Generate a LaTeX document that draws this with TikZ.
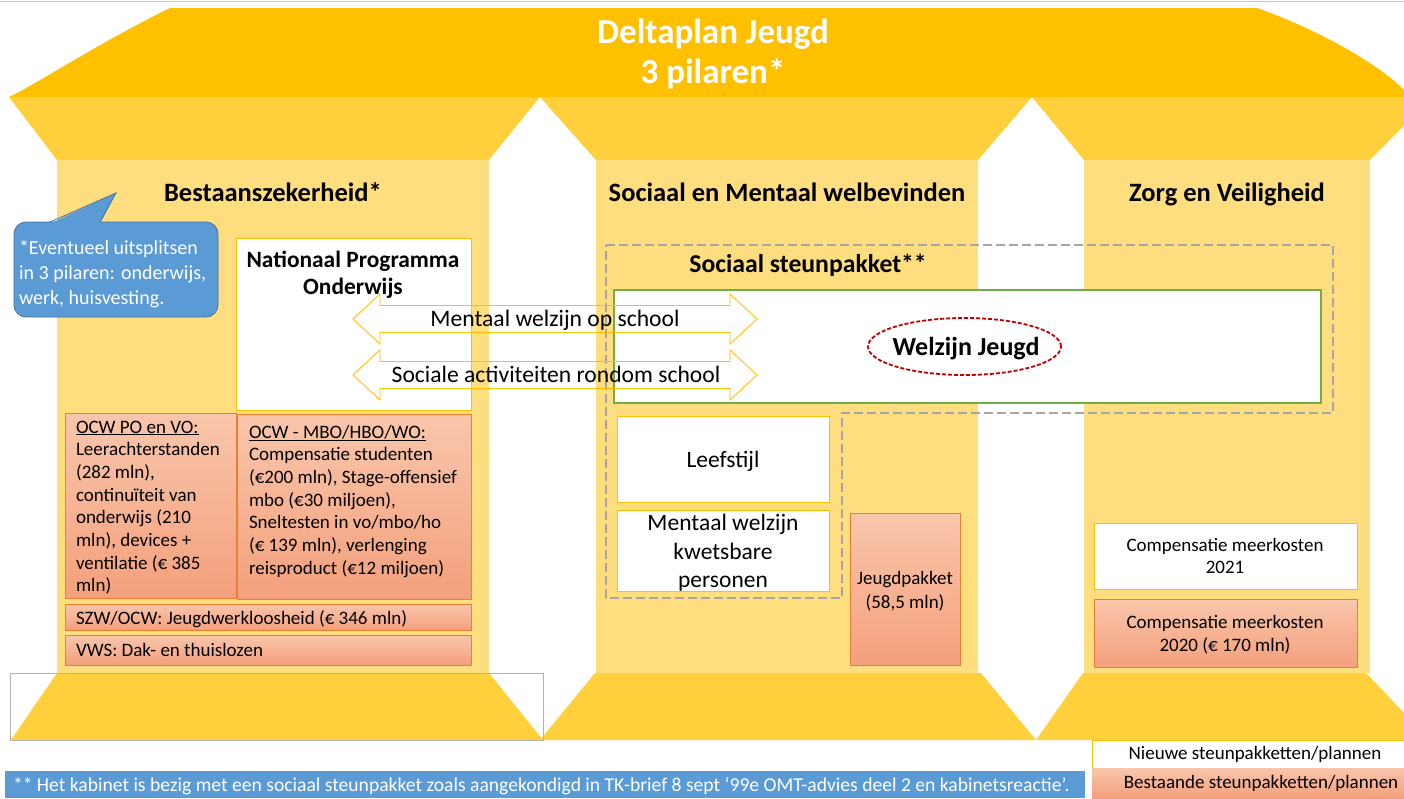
\documentclass[tikz,border=0pt]{standalone}
\usepackage{fontspec}
\setmainfont{Carlito}
\usetikzlibrary{shapes.geometric}
\definecolor{roofc}{HTML}{FFC000}
\definecolor{capc}{HTML}{FFD03C}
\definecolor{shaftc}{HTML}{FFDE80}
\definecolor{salA}{HTML}{F9C6AC}
\definecolor{salB}{HTML}{F4A07C}
\definecolor{salD}{HTML}{ED7D31}
\definecolor{bluec}{HTML}{5B9BD5}
\definecolor{blueD}{HTML}{41719C}
\definecolor{greenc}{HTML}{70AD47}
\definecolor{redc}{HTML}{C00000}
\definecolor{grayc}{HTML}{A6A6A6}
\definecolor{boxy}{HTML}{FFC000}
\newcommand{\fsz}[1]{\fontsize{#1}{#1}\selectfont}
\begin{document}
\begin{tikzpicture}[x=1pt,y=-1pt,
  every node/.style={inner sep=0pt,outer sep=0pt},
  wbox/.style={draw=boxy,fill=white,line width=0.9pt,anchor=north west},
  sbox/.style={draw=salD,line width=0.8pt,top color=salA,bottom color=salB,anchor=north west},
  hdr/.style={font=\bfseries\fsz{26.5},anchor=base},
  ltxt/.style={font=\fsz{19},anchor=base west},
  ctxt/.style={font=\fsz{19},anchor=base},
  btxt/.style={font=\fsz{23.5},anchor=base},
  dblarrow/.style={draw=roofc,line width=0.9pt},
]
\fill[white] (0,0) rectangle (1404,798);
\useasboundingbox (0,0) rectangle (1404,798);
\clip (0,0) rectangle (1404,798);
\draw[gray!45,line width=1.5pt] (0,1.5) -- (1404,1.5);
% roof
\fill[roofc] (9,97) .. controls (35,85) and (95,45) .. (170,8) -- (1257,8)
  .. controls (1320,30) and (1390,70) .. (1410,97) -- cycle;
% capitals
\fill[capc] (9,97) -- (540,97) -- (489,160) -- (57,160) -- cycle;
\fill[capc] (540,97) -- (1032,97) -- (978,160) -- (596,160) -- cycle;
\fill[capc] (1032,97) -- (1432,97) -- (1370,160) -- (1084,160) -- cycle;
% shafts
\fill[shaftc] (57,160) rectangle (489,673);
\fill[shaftc] (596,160) rectangle (978,673);
\fill[shaftc] (1084,160) rectangle (1370,673);
% bases
\fill[capc] (57,673) -- (489,673) -- (543,740) -- (11,740) -- cycle;
\fill[capc] (595,673) -- (981,673) -- (1036,740) -- (540,740) -- cycle;
\fill[capc] (1083,673) -- (1366,673) -- (1430,740) -- (1036,740) -- cycle;
\draw[gray!60,line width=0.8pt] (10,673) rectangle (543,740);
% title
\node[font=\bfseries\fsz{35},text=white,anchor=base] (t1) at (713,43) {Deltaplan Jeugd};
\node[font=\bfseries\fsz{35},text=white,anchor=base] (t2) at (713,83) {3 pilaren*};
% headers
\node[hdr] (h1) at (273,201.5) {Bestaanszekerheid*};
\node[hdr] (h2) at (787,201.5) {Sociaal en Mentaal welbevinden};
\node[hdr] (h3) at (1227,201.5) {Zorg en Veiligheid};
% speech bubble
\node[draw=blueD,fill=bluec,line width=0.8pt,rounded corners=12pt,minimum width=204,minimum height=95,anchor=north west] (bub) at (14,222) {};
\fill[bluec] (50,223.5) -- (116,193) -- (100,223.5) -- cycle;
\draw[blueD,line width=0.8pt] (50,222) -- (116,193) -- (100,222);
\node[font=\fsz{20},text=white,anchor=base west] (b1) at (19,254) {*Eventueel uitsplitsen};
\node[font=\fsz{20},text=white,anchor=base west] (b2) at (19,279) {in 3 pilaren: onderwijs,};
\node[font=\fsz{20},text=white,anchor=base west] (b3) at (19,304) {werk, huisvesting.};
% left pillar boxes
\node[wbox,minimum width=235,minimum height=172] (npo) at (236,238) {};
\node[font=\bfseries\fsz{23.4},anchor=base] (npo1) at (353,267) {Nationaal Programma};
\node[font=\bfseries\fsz{23.4},anchor=base] (npo2) at (353,294) {Onderwijs};
\node[sbox,minimum width=171,minimum height=185] (ocwpo) at (65,413) {};
\node[sbox,minimum width=234,minimum height=185] (ocwmbo) at (237,414) {};
\node[sbox,minimum width=406,minimum height=26] (szw) at (65,604) {};
\node[sbox,minimum width=406,minimum height=30] (vws) at (65,635) {};
\foreach [count=\i] \t in {{\underline{OCW PO en VO:}},Leerachterstanden,{(282 mln),},continuïteit van,{onderwijs (210},{mln), devices +},{ventilatie (€ 385},{mln)}}
  \node[ltxt] (po\i) at (76,433+22.7*\i-22.7) {\t};
\foreach [count=\i] \t in {{\underline{OCW - MBO/HBO/WO:}},Compensatie studenten,{(€200 mln), Stage-offensief},{mbo (€30 miljoen),},Sneltesten in vo/mbo/ho,{(€ 139 mln), verlenging},{reisproduct (€12 miljoen)}}
  \node[ltxt] (mbo\i) at (249,438+22.7*\i-22.7) {\t};
\node[ltxt] (szwt) at (76,624) {SZW/OCW: Jeugdwerkloosheid (€ 346 mln)};
\node[ltxt] (vwst) at (76,656) {VWS: Dak- en thuislozen};
% middle pillar
\draw[grayc,line width=2.8pt,dash pattern=on 9pt off 4pt] (606,245) -- (1333,245) -- (1333,413) -- (842,413) -- (842,598) -- (606,598) -- cycle;
\node[font=\bfseries\fsz{25.7},anchor=base] (ssp) at (808,272) {Sociaal steunpakket**};
\node[draw=greenc,fill=white,line width=2.6pt,minimum width=707,minimum height=113,anchor=north west] (green) at (614,290) {};
\node[draw=redc,line width=1.8pt,dash pattern=on 4pt off 2pt,ellipse,minimum width=193,minimum height=57] (wj) at (964.5,346.5) {};
\node[font=\bfseries\fsz{26},anchor=base] (wjt) at (966,355) {Welzijn Jeugd};
\node[wbox,minimum width=212,minimum height=86] (leef) at (617,416) {};
\node[btxt] (leeft) at (723,467.5) {Leefstijl};
\node[wbox,minimum width=212,minimum height=81] (mwk) at (617,510) {};
\node[btxt] (mwk1) at (723,530.5) {Mentaal welzijn};
\node[btxt] (mwk2) at (723,559.5) {kwetsbare};
\node[btxt] (mwk3) at (723,587.5) {personen};
\node[sbox,minimum width=110,minimum height=152] (jp) at (850,513) {};
\node[ctxt] (jp1) at (905,584) {Jeugdpakket};
\node[ctxt] (jp2) at (905,608) {(58,5 mln)};
% arrows
\draw[dblarrow] (353,319) -- (380,294) -- (380,305.5) -- (730,305.5) -- (730,294) -- (757,319) -- (730,344) -- (730,332.5) -- (380,332.5) -- (380,344) -- cycle;
\draw[dblarrow] (353,375) -- (380,350) -- (380,361.5) -- (730,361.5) -- (730,350) -- (757,375) -- (730,400) -- (730,388.5) -- (380,388.5) -- (380,400) -- cycle;
\node[font=\fsz{23.6},anchor=base] (a1) at (555,326.5) {Mentaal welzijn op school};
\node[font=\fsz{23.6},anchor=base] (a2) at (556,382.5) {Sociale activiteiten rondom school};
% right pillar
\node[wbox,minimum width=263,minimum height=66] (c21) at (1094,523) {};
\node[ctxt] (c21a) at (1225,551) {Compensatie meerkosten};
\node[ctxt] (c21b) at (1225,573) {2021};
\node[sbox,minimum width=263,minimum height=68] (c20) at (1094,599) {};
\node[ctxt] (c20a) at (1225,628) {Compensatie meerkosten};
\node[ctxt] (c20b) at (1225,651) {2020 (€ 170 mln)};
% legend
\node[wbox,minimum width=320,minimum height=28] (lgn) at (1092,740) {};
\node[sbox,minimum width=320,minimum height=30,draw=none] (lgo) at (1092,768) {};
\node[ctxt] (lgnt) at (1255,759) {Nieuwe steunpakketten/plannen};
\node[ctxt] (lgot) at (1261,788) {Bestaande steunpakketten/plannen};
% footer
\node[fill=bluec,minimum width=1080,minimum height=27,anchor=north west] (foot) at (5,771) {};
\node[font=\fsz{19.6},text=white,anchor=base west] (foott) at (13,791) {** Het kabinet is bezig met een sociaal steunpakket zoals aangekondigd in TK-brief 8 sept ‘99e OMT-advies deel 2 en kabinetsreactie’.};
\end{tikzpicture}
\end{document}
